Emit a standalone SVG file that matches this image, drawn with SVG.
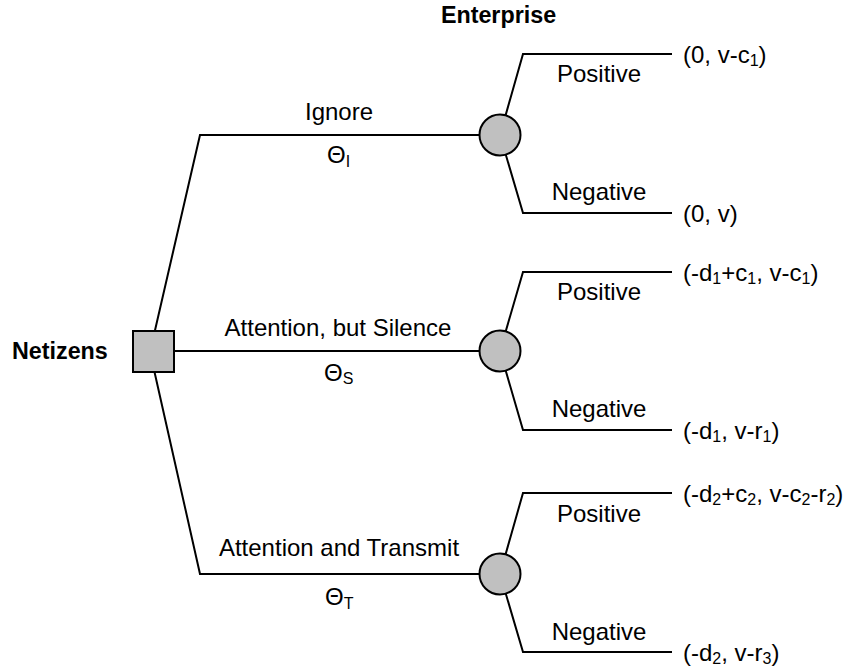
<svg xmlns="http://www.w3.org/2000/svg" width="846" height="670" viewBox="0 0 846 670">
<style>
text{font-family:"Liberation Sans",Arial,sans-serif;font-size:24px;fill:#000}
.b{font-weight:bold;font-size:23.3px}
.m{text-anchor:middle}
.s{font-size:16px}
.ln{stroke:#000;stroke-width:2;fill:none}
.nd{fill:#c0c0c0;stroke:#000;stroke-width:2}
</style>
<rect width="846" height="670" fill="#fff"/>
<g id="connectors">
<polyline class="ln" points="150,352 200,135 500,135"/>
<line class="ln" x1="153" y1="351" x2="500" y2="351"/>
<polyline class="ln" points="150,352 200,574 500,574"/>
<polyline class="ln" points="500,135 523,54 672,54"/>
<polyline class="ln" points="500,135 523,213 672,213"/>
<polyline class="ln" points="500,351 523,272 672,272"/>
<polyline class="ln" points="500,351 523,430 672,430"/>
<polyline class="ln" points="500,574 523,493 672,493"/>
<polyline class="ln" points="500,574 523,652 672,652"/>
</g>
<g id="netizens">
<rect class="nd" x="133" y="331" width="41" height="41"/>
<text class="b" x="12" y="359">Netizens</text>
</g>
<g id="enterprise-label"><text class="b m" x="498.5" y="23">Enterprise</text></g>
<g id="e1"><circle class="nd" cx="500" cy="135" r="20.5"/></g>
<g id="e2"><circle class="nd" cx="500" cy="351" r="20.5"/></g>
<g id="e3"><circle class="nd" cx="500" cy="574" r="20.5"/></g>
<g id="labels">
<text class="m" x="339" y="120">Ignore</text>
<text x="327" y="163">Θ<tspan class="s" dy="4">I</tspan></text>
<text class="m" x="338" y="336">Attention, but Silence</text>
<text x="324" y="381">Θ<tspan class="s" dy="3">S</tspan></text>
<text class="m" x="339" y="556">Attention and Transmit</text>
<text x="325" y="605">Θ<tspan class="s" dy="4">T</tspan></text>
<text class="m" x="599" y="82">Positive</text>
<text class="m" x="599" y="200">Negative</text>
<text class="m" x="599" y="300">Positive</text>
<text class="m" x="599" y="417">Negative</text>
<text class="m" x="599" y="522">Positive</text>
<text class="m" x="599" y="640">Negative</text>
<text x="683" y="63">(0, v-c<tspan class="s" dy="3">1</tspan><tspan dy="-3">)</tspan></text>
<text x="683" y="222">(0, v)</text>
<text x="683" y="281">(-d<tspan class="s" dy="3">1</tspan><tspan dy="-3">+c</tspan><tspan class="s" dy="3">1</tspan><tspan dy="-3">, v-c</tspan><tspan class="s" dy="3">1</tspan><tspan dy="-3">)</tspan></text>
<text x="683" y="439">(-d<tspan class="s" dy="3">1</tspan><tspan dy="-3">, v-r</tspan><tspan class="s" dy="3">1</tspan><tspan dy="-3">)</tspan></text>
<text x="683" y="502">(-d<tspan class="s" dy="3">2</tspan><tspan dy="-3">+c</tspan><tspan class="s" dy="3">2</tspan><tspan dy="-3">, v-c</tspan><tspan class="s" dy="3">2</tspan><tspan dy="-3">-r</tspan><tspan class="s" dy="3">2</tspan><tspan dy="-3">)</tspan></text>
<text x="683" y="661">(-d<tspan class="s" dy="3">2</tspan><tspan dy="-3">, v-r</tspan><tspan class="s" dy="3">3</tspan><tspan dy="-3">)</tspan></text>
</g>
</svg>
